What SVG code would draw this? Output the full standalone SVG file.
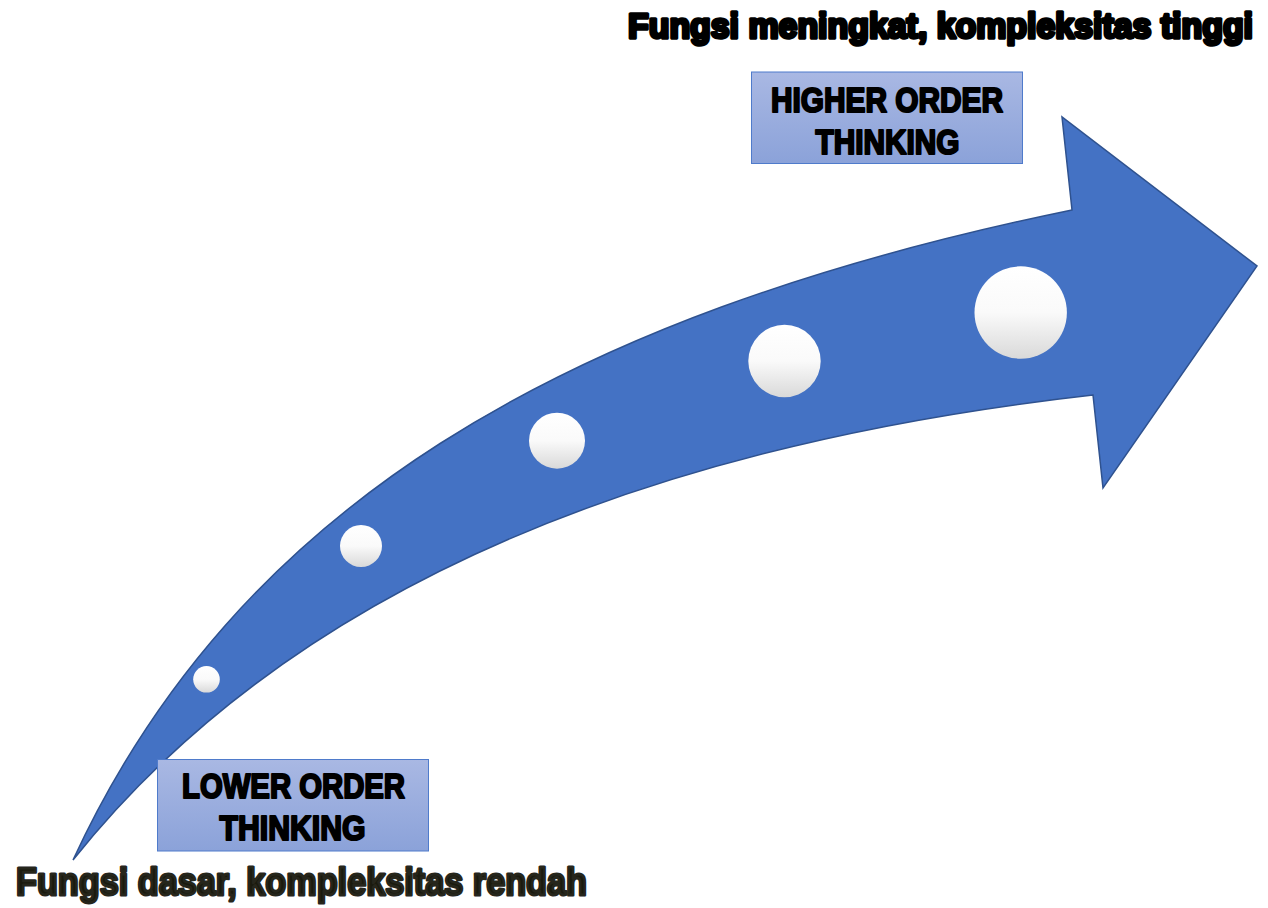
<svg xmlns="http://www.w3.org/2000/svg" width="1268" height="908" viewBox="0 0 1268 908">
<defs>
<linearGradient id="ball" x1="0" y1="0" x2="0" y2="1">
<stop offset="0" stop-color="#ffffff"/>
<stop offset="0.5" stop-color="#fafafa"/>
<stop offset="1" stop-color="#d9d9d9"/>
</linearGradient>
<linearGradient id="box" x1="0" y1="0" x2="0" y2="1">
<stop offset="0" stop-color="#A9B8E3"/>
<stop offset="1" stop-color="#8BA2D9"/>
</linearGradient>
<style>
.lbl{font-family:"Liberation Sans","Arial",sans-serif;font-weight:bold;fill:#000;stroke:#000;stroke-width:2.2;stroke-linejoin:round}
.ttl{font-family:"Liberation Sans","Arial",sans-serif;font-weight:bold;stroke-width:3;stroke-linejoin:round}
.bx{fill:url(#box);stroke:#4F7BCB;stroke-width:1}
.ball{fill:url(#ball)}
</style>
</defs>
<rect width="1268" height="908" fill="#ffffff"/>
<g id="arrow">
<path d="M73,860 C235,510 557,316 1072,210 L1062,117 L1257,266 L1103,488 L1093,395 Q380,475 73,860 Z" fill="#4472C4" stroke="#2F528F" stroke-width="1.5" stroke-linejoin="miter"/>
</g>
<g id="dots">
<circle class="ball" cx="206.5" cy="679.3" r="13.3"/>
<circle class="ball" cx="361" cy="546" r="21"/>
<circle class="ball" cx="557" cy="440.7" r="28"/>
<circle class="ball" cx="784.5" cy="361" r="36.2"/>
<circle class="ball" cx="1020.7" cy="312.5" r="46.2"/>
</g>
<g id="higher">
<rect class="bx" x="751.5" y="72" width="271" height="91.5"/>
<text class="lbl" x="887" y="112" font-size="35" text-anchor="middle" textLength="232" lengthAdjust="spacingAndGlyphs">HIGHER ORDER</text>
<text class="lbl" x="887.5" y="154" font-size="35" text-anchor="middle" textLength="144" lengthAdjust="spacingAndGlyphs">THINKING</text>
</g>
<g id="lower">
<rect class="bx" x="157.5" y="759.5" width="271" height="91.5"/>
<text class="lbl" x="293.5" y="798" font-size="35" text-anchor="middle" textLength="223" lengthAdjust="spacingAndGlyphs">LOWER ORDER</text>
<text class="lbl" x="292.5" y="840" font-size="35" text-anchor="middle" textLength="146" lengthAdjust="spacingAndGlyphs">THINKING</text>
</g>
<g id="title-top">
<text class="ttl" transform="translate(628,38) scale(1,1.16)" x="0" y="0" font-size="30" fill="#000" stroke="#000" textLength="625" lengthAdjust="spacingAndGlyphs">Fungsi meningkat, kompleksitas tinggi</text>
</g>
<g id="title-bottom">
<text class="ttl" x="16" y="895" font-size="39" fill="#1A1A0E" stroke="#26261c" stroke-width="3.2" textLength="571" lengthAdjust="spacingAndGlyphs">Fungsi dasar, kompleksitas rendah</text>
</g>
<g id="connectors"/>
</svg>
